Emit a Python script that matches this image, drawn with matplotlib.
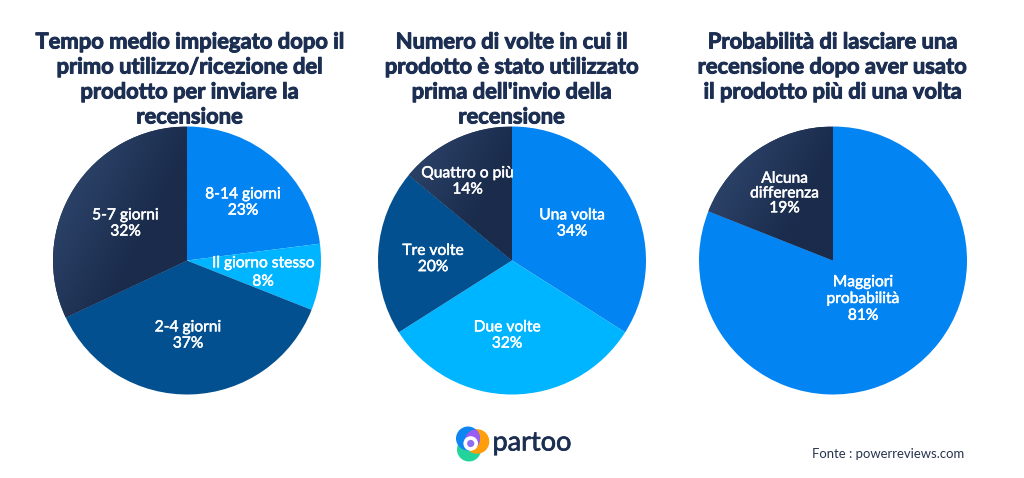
import numpy as np
import matplotlib
matplotlib.use("Agg")
import matplotlib.pyplot as plt
import matplotlib.patheffects as pe
from matplotlib.patches import Circle
from matplotlib.colors import LinearSegmentedColormap

W, H = 1024, 478
NAVY = "#1c2f52"; BLUE = "#0384f3"; CYAN = "#00b5ff"; DEEP = "#02508f"; DARK = "#1f3356"

titles = [
    "Tempo medio impiegato dopo il\nprimo utilizzo/ricezione del\nprodotto per inviare la\nrecensione",
    "Numero di volte in cui il\nprodotto è stato utilizzato\nprima dell'invio della\nrecensione",
    "Probabilità di lasciare una\nrecensione dopo aver usato\nil prodotto più di una volta",
]
values_a = [23, 8, 37, 32]
labels_a = ["8-14 giorni", "Il giorno stesso", "2-4 giorni", "5-7 giorni"]
colors_a = [BLUE, CYAN, DEEP, DARK]
values_b = [34, 32, 20, 14]
labels_b = ["Una volta", "Due volte", "Tre volte", "Quattro o più"]
colors_b = [BLUE, CYAN, DEEP, DARK]
values_c = [81, 19]
labels_c = ["Maggiori\nprobabilità", "Alcuna\ndifferenza"]
colors_c = [BLUE, DARK]

fig = plt.figure(figsize=(W / 100, H / 100), dpi=100, facecolor="white")
px = fig.add_axes([0, 0, 1, 1]); px.set_xlim(0, W); px.set_ylim(H, 0); px.axis("off")
px.set_zorder(5); px.patch.set_visible(False)
FONT = "Lato"
grad = LinearSegmentedColormap.from_list("g", ["#2b4268", "#1a2b4b"])
label_fx = [pe.withStroke(linewidth=0.35, foreground="white")]
title_fx = [pe.withStroke(linewidth=0.7, foreground=NAVY)]


def pie(cx, cy, r, values, labels, colors, positions, spacing, title, title_x, clip_last=False):
    ax = fig.add_axes([(cx - r) / W, 1 - (cy + r) / H, 2 * r / W, 2 * r / H])
    wedges, _ = ax.pie(values, colors=colors, startangle=90, counterclock=False, radius=1)
    yy, xx = np.mgrid[0:1:64j, 0:1:64j]
    im = ax.imshow(xx + (1 - yy), extent=(-1, 0, -1, 1), origin="lower", cmap=grad,
                   zorder=2, aspect="auto", vmin=0.35, vmax=1.1)
    im.set_clip_path(wedges[-1])
    ax.set_xlim(-1, 1); ax.set_ylim(-1, 1); ax.set_aspect("equal"); ax.axis("off")
    ax.set_zorder(1)
    for i, (lab, v, (x, y), ls) in enumerate(zip(labels, values, positions, spacing)):
        t = px.text(x, y + 0.5, f"{lab}\n{v}%", color="white", ha="center", va="center", multialignment="center",
                    fontsize=11.2, fontweight="normal", family=FONT, linespacing=ls, zorder=10,
                    path_effects=label_fx)
        if clip_last and i == len(labels) - 1:
            t.set_clip_path(wedges[-1])
    px.text(title_x, 31.5, title, color=NAVY, ha="center", va="top", fontsize=15.8,
            fontweight="bold", family=FONT, linespacing=1.235, path_effects=title_fx)


pie(187, 260.5, 134, values_a, labels_a, colors_a,
    [(243, 202), (263, 272), (188, 335), (125.5, 223)], [1.2, 1.4, 1.2, 1.2], titles[0], 190)
pie(512, 260.5, 134, values_b, labels_b, colors_b,
    [(572, 223), (507, 335), (433, 258.5), (467.5, 181)], [1.2, 1.2, 1.2, 1.2], titles[1], 512, clip_last=True)
pie(833, 260.5, 134, values_c, labels_c, colors_c,
    [(863, 298.5), (784.5, 193)], [1.25, 1.07], titles[2], 833)

# logo
px.add_patch(Circle((469, 449.5), 12, fc="#22d49c", ec="none", zorder=6))
orange = Circle((477, 441.5), 12.3, fc="#ff9d0a", ec="none", zorder=6.1)
px.add_patch(orange)
px.add_patch(Circle((468, 438.5), 12, fc="#0d86f2", ec="none", zorder=6.2))
purple = Circle((468, 438.5), 12, fc="#9b5cf6", ec="none", zorder=6.3)
px.add_patch(purple)
purple.set_clip_path(orange)
px.add_patch(Circle((470.7, 443.5), 7.3, fc="white", ec="none", zorder=7))
px.add_patch(Circle((470.7, 443.5), 3.6, fc="#8f6cf0", ec="none", zorder=8))
px.text(532, 443, "partoo", color=NAVY, ha="center", va="center", fontsize=19.5, fontweight="normal",
        family=FONT, zorder=8, path_effects=[pe.withStroke(linewidth=0.5, foreground=NAVY)])
px.text(964, 454, "Fonte : powerreviews.com", color="#26344f", ha="right", va="center", fontsize=9.45,
        family=FONT, zorder=8)

fig.savefig("out.png", dpi=100)
